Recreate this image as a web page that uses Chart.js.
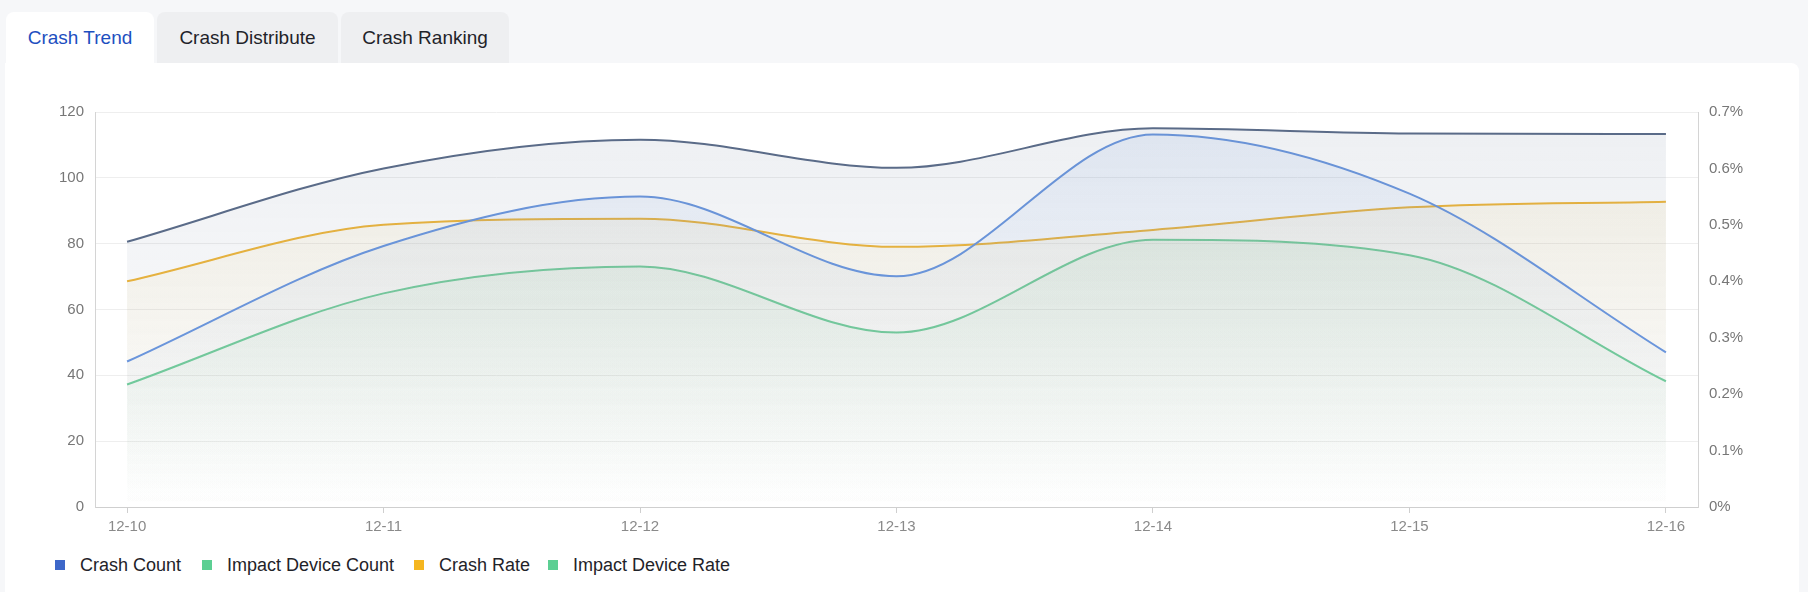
<!DOCTYPE html>
<html>
<head>
<meta charset="utf-8">
<script src="https://cdn.jsdelivr.net/npm/chart.js@4.4.1/dist/chart.umd.min.js"></script>
<style>
  body { margin: 0; background: #f6f7f9; font-family: "Liberation Sans", Arial, sans-serif; width: 1808px; height: 592px; overflow: hidden; position: relative; }
  .tab { position: absolute; top: 12px; height: 51px; line-height: 51px; font-size: 19px; color: #1f2329; background: #eeeff1; border-radius: 8px 8px 0 0; text-align: center; }
  .tab.active { background: #fff; color: #1d4fbf; }
  #card { position: absolute; left: 5px; top: 63px; width: 1794px; height: 540px; background: #fff; border-radius: 0 8px 0 0; }
  #wrap { position: absolute; left: 0; top: 63px; width: 1808px; height: 487px; }
  #legend { position: absolute; top: 554px; left: 0; height: 22px; font-size: 18px; color: #1f2329; }
  #legend span.item { position: absolute; white-space: nowrap; line-height: 22px; }
  #legend i { position: absolute; top: 6px; width: 10px; height: 10px; }
</style>
</head>
<body>
<div id="card"></div>
<div class="tab active" style="left:6px;width:148px;">Crash Trend</div>
<div class="tab" style="left:157px;width:181px;">Crash Distribute</div>
<div class="tab" style="left:341px;width:168px;">Crash Ranking</div>
<div id="wrap"><canvas id="trendChart"></canvas></div>
<div id="legend"></div>
<script>
var days = ["12-10", "12-11", "12-12", "12-13", "12-14", "12-15", "12-16"];
var crashCount = [44.2, 79.3, 94.3, 70.1, 113.2, 95.2, 47.0];
var impactDeviceCount = [37.2, 64.9, 73.1, 53.0, 81.2, 76.5, 38.2];
var crashRate = [0.40, 0.50, 0.511, 0.461, 0.491, 0.531, 0.541];   // percent
var impactDeviceRate = [0.470, 0.600, 0.651, 0.601, 0.671, 0.662, 0.661];   // percent
var legendNames = ["Crash Count", "Impact Device Count", "Crash Rate", "Impact Device Rate"];
var legendColors = ["#3d67c9", "#5ccf93", "#f5b620", "#5ccf93"];
var legendX = [55, 202, 414, 548];

function pts(arr) {
    return arr.map(function (v, i) { return { x: i, y: v }; });
}

function fade(r, g, b, a) {
    return function (ctx) {
        var area = ctx.chart.chartArea;
        if (!area) return 'rgba(' + r + ',' + g + ',' + b + ',' + a + ')';
        var grad = ctx.chart.ctx.createLinearGradient(0, area.top, 0, area.bottom);
        grad.addColorStop(0, 'rgba(' + r + ',' + g + ',' + b + ',' + a + ')');
        grad.addColorStop(1, 'rgba(' + r + ',' + g + ',' + b + ',0)');
        return grad;
    };
}

var tickFont = { family: "Liberation Sans, Arial, sans-serif", size: 15 };

var chart = new Chart(document.getElementById('trendChart').getContext('2d'), {
    type: 'line',
    data: {
        datasets: [{
            label: 'Impact Device Rate',
            data: pts(impactDeviceRate),
            yAxisID: 'yRate',
            borderColor: '#5a6b88',
            backgroundColor: fade(90, 110, 140, 0.11),
            fill: 'origin'
        }, {
            label: 'Crash Count',
            data: pts(crashCount),
            yAxisID: 'y',
            borderColor: '#6b97df',
            backgroundColor: fade(107, 151, 223, 0.12),
            fill: 'origin'
        }, {
            label: 'Crash Rate',
            data: pts(crashRate),
            yAxisID: 'yRate',
            borderColor: '#efb63a',
            backgroundColor: fade(239, 200, 90, 0.13),
            fill: 'origin'
        }, {
            label: 'Impact Device Count',
            data: pts(impactDeviceCount),
            yAxisID: 'y',
            borderColor: '#6dcf9c',
            backgroundColor: fade(110, 200, 140, 0.16),
            fill: 'origin'
        }]
    },
    options: {
        responsive: true,
        maintainAspectRatio: false,
        animation: false,
        layout: { padding: { top: 49, left: 0, right: 0, bottom: 0 } },
        elements: {
            line: { borderWidth: 2, cubicInterpolationMode: 'monotone' },
            point: { radius: 0 }
        },
        plugins: { legend: { display: false }, tooltip: { enabled: false } },
        scales: {
            x: {
                type: 'linear',
                min: -0.125,
                max: 6.125,
                afterFit: function (s) { s.height = 43; },
                grid: { drawOnChartArea: false, drawTicks: true, tickLength: 6, color: '#cfcfcf' },
                border: { display: true, color: '#cfcfcf' },
                ticks: {
                    stepSize: 1,
                    includeBounds: false,
                    autoSkip: false,
                    maxRotation: 0,
                    padding: 5,
                    color: '#8a8a8a',
                    font: tickFont,
                    callback: function (v) { return days[v] !== undefined ? days[v] : ''; }
                }
            },
            y: {
                position: 'left',
                min: 0,
                max: 120,
                afterFit: function (s) { s.width = 95; },
                grid: { color: '#eeeeee', drawTicks: false },
                border: { display: true, color: '#d4d4d4' },
                ticks: { stepSize: 20, padding: 11, color: '#777', font: tickFont }
            },
            yRate: {
                position: 'right',
                min: 0,
                max: 0.7,
                afterFit: function (s) { s.width = 110; },
                grid: { drawOnChartArea: false, drawTicks: false },
                border: { display: true, color: '#d4d4d4' },
                ticks: {
                    stepSize: 0.1,
                    padding: 11,
                    color: '#777',
                    font: tickFont,
                    callback: function (v) { return (v === 0 ? '0' : v.toFixed(1)) + '%'; }
                }
            }
        }
    }
});

// legend (html)
var out = '';
for (var i = 0; i < legendNames.length; i++) {
    out += '<span class="item" style="left:' + legendX[i] + 'px"><i style="left:0;background:' + legendColors[i] + '"></i><span style="padding-left:25px">' + legendNames[i] + '</span></span>';
}
document.getElementById('legend').innerHTML = out;
</script>
</body>
</html>
